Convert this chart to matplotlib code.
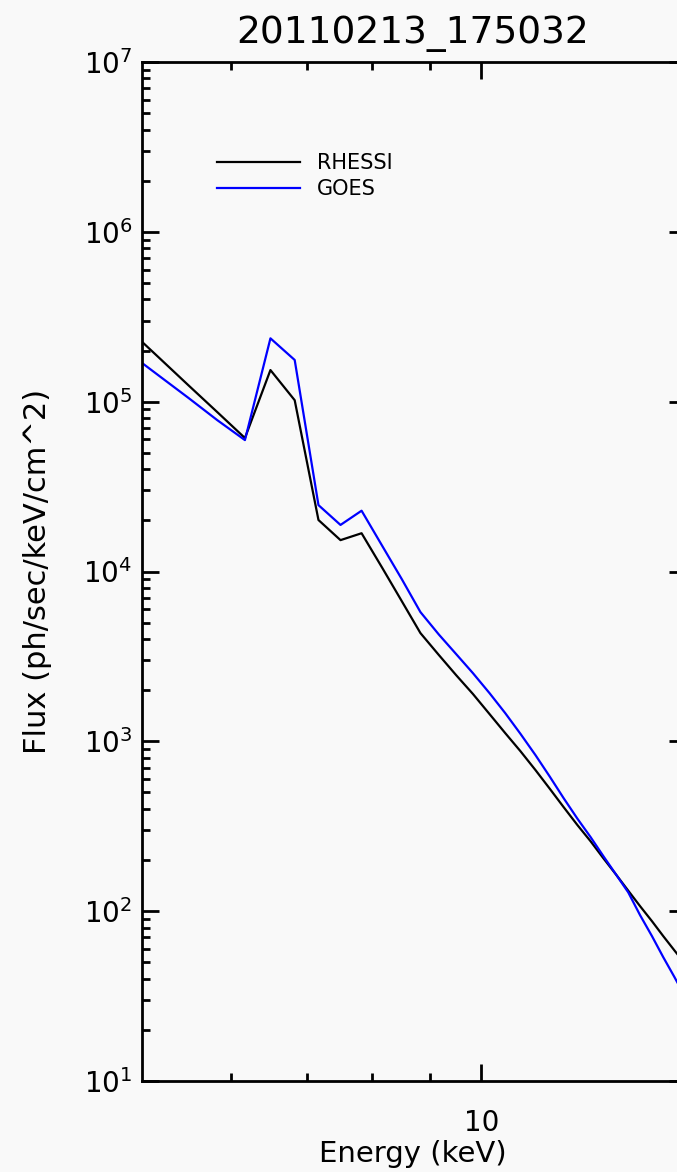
import matplotlib
matplotlib.use("Agg")
import matplotlib.pyplot as plt
from matplotlib.ticker import NullFormatter, FixedLocator, FixedFormatter

# energy bin centres (keV) and fluxes
energy = [4.83, 5.17, 5.5, 5.83, 6.17, 6.5, 6.83, 7.17, 7.5, 7.83,
          8.17, 8.5, 8.83, 9.17, 9.5, 9.83, 10.17, 10.5, 10.83, 11.17,
          11.5, 11.83, 12.17, 12.5, 12.83, 13.17, 13.5, 13.83, 14.17, 14.5,
          14.83, 15.17]
rhessi = [2.79e5, 1.83e5, 1.245e5, 8.69e4, 6.11e4, 1.535e5, 1.02e5, 2.01e4, 1.53e4, 1.68e4,
          1.047e4, 6.69e3, 4.34e3, 3.22e3, 2.45e3, 1.90e3, 1.446e3, 1.118e3, 876, 677,
          526, 410, 321, 258, 205, 164, 132, 107, 87.3, 71.3,
          58.9, 48.7]
goes = [2.01e5, 1.43e5, 1.05e5, 7.79e4, 5.94e4, 2.36e5, 1.76e5, 2.46e4, 1.88e4, 2.28e4,
        1.41e4, 9.02e3, 5.77e3, 4.25e3, 3.26e3, 2.52e3, 1.92e3, 1.466e3, 1.109e3, 829,
        620, 463, 350, 273, 211, 164, 129, 94.7, 71.3, 53.6,
        41.1, 31.2]
title = "20110213_175032"
ypow = [1, 2, 3, 4, 5, 6, 7]

bg = "#f9f9f9"
fig = plt.figure(figsize=(6.77, 11.72), dpi=100, facecolor=bg)
# right spine sits just past the picture edge, as in the reference
ax = fig.add_axes([142 / 677, 91 / 1172, 544 / 677, 1019 / 1172], facecolor=bg)

ax.plot(energy, rhessi, color="black", lw=1.6, label="RHESSI")
ax.plot(energy, goes, color="#0000ff", lw=1.6, label="GOES")

ax.set_xscale("log")
ax.set_yscale("log")
ax.set_xlim(5, 15.19)
ax.set_ylim(1e1, 1e7)

ax.xaxis.set_major_locator(FixedLocator([10]))
ax.xaxis.set_major_formatter(FixedFormatter(["10"]))
ax.xaxis.set_minor_locator(FixedLocator([6, 7, 8, 9]))
ax.xaxis.set_minor_formatter(NullFormatter())

ax.yaxis.set_major_locator(FixedLocator([10.0 ** p for p in ypow]))
ax.yaxis.set_major_formatter(FixedFormatter([r"$\mathdefault{10^{%d}}$" % p for p in ypow]))
ax.yaxis.set_minor_locator(FixedLocator([m * 10.0 ** p for p in ypow[:-1] for m in range(2, 10)]))
ax.yaxis.set_minor_formatter(NullFormatter())

ax.tick_params(which="both", direction="in", top=True, right=True, width=2, color="black")
ax.tick_params(which="major", length=12, labelsize=20, pad=7)
ax.tick_params(which="minor", length=5.8)
ax.tick_params(axis="x", which="major", pad=20)
for s in ax.spines.values():
    s.set_linewidth(2)

ax.set_title(title, fontsize=27, pad=14)
ax.set_xlabel("Energy (keV)", fontsize=21)
ax.set_ylabel("Flux (ph/sec/keV/cm^2)", fontsize=22)
ax.xaxis.set_label_coords(0.5 * 541 / 544, -(1140 - 1081) / 1019)
ax.xaxis.label.set_va("top")
ax.yaxis.set_label_coords((52 - 142) / 544, 0.5)

ax.legend(loc="upper left", bbox_to_anchor=((217 - 142) / 544, 1 - (153 - 62) / 1019),
          frameon=False, fontsize=15, handlelength=4.0, handletextpad=0.8,
          labelspacing=0.3, borderpad=0, borderaxespad=0)

ax.title.set_position((0.5 * 541 / 544, 1.0))

fig.savefig("out.png", dpi=100, facecolor=bg)
